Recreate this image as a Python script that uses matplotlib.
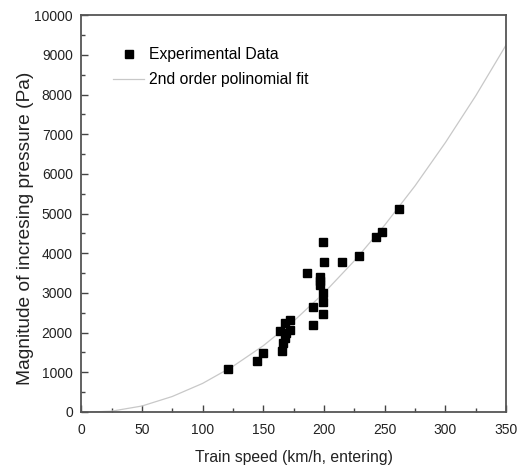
"""Pressure rise vs train speed, with 2nd order fit"""

import numpy as np
import matplotlib.pyplot as plt
from matplotlib.ticker import MultipleLocator

plt.rcParams['font.family'] = ['Liberation Sans', 'DejaVu Sans']

# measured points (speed km/h, pressure Pa)
speed = [121, 145, 150, 165, 166, 164, 168, 172, 172, 169, 168,
         191, 191, 186, 199, 200, 197, 197, 197, 199, 199, 199,
         215, 229, 243, 248, 262]
pressure = [1080, 1290, 1490, 1530, 1750, 2030, 2240, 2320, 2070, 2000, 1860,
            2200, 2640, 3510, 4290, 3770, 3410, 3290, 3200, 3010, 2760, 2470,
            3790, 3930, 4400, 4530, 5120]

# fitted curve
fit_speed = [8, 25, 50, 75, 100, 125, 150, 175, 200, 225, 250, 275, 300, 325, 350]
fit_pressure = [0, 20, 150, 390, 720, 1150, 1670, 2290, 3000, 3810, 4710,
                5700, 6790, 7970, 9250]

fig = plt.figure(figsize=(5.17, 4.73), dpi=100)
ax = fig.add_axes([0.157, 0.129, 0.822, 0.839])

ax.plot(fit_speed, fit_pressure, color='#c8c8c8', lw=0.9,
        label='2nd order polinomial fit', zorder=2)
ax.plot(speed, pressure, 's', color='black', ms=5.8, ls='none',
        label='Experimental Data', zorder=3)

ax.set_xlim(0, 350)
ax.set_ylim(0, 10000)
ax.xaxis.set_major_locator(MultipleLocator(50))
ax.xaxis.set_minor_locator(MultipleLocator(25))
ax.yaxis.set_major_locator(MultipleLocator(1000))
ax.yaxis.set_minor_locator(MultipleLocator(500))
ax.tick_params(which='both', direction='in', top=False, right=False,
               color='#444444', labelsize=10, labelcolor='#222222')
ax.tick_params(which='major', length=5, width=1)
ax.tick_params(which='minor', length=3, width=1)
ax.tick_params(axis='x', which='major', pad=8)
ax.tick_params(axis='y', which='major', pad=6)
for s in ax.spines.values():
    s.set_color('#555555')
    s.set_linewidth(1.3)

ax.set_xlabel('Train speed (km/h, entering)', fontsize=11.3,
              color='#222222', labelpad=9)
ax.set_ylabel('Magnitude of incresing pressure (Pa)', fontsize=13.8,
              color='#222222')
ax.yaxis.set_label_coords(-0.112, 0.463)

handles, labels = ax.get_legend_handles_labels()
ax.legend(handles[::-1], labels[::-1], loc='upper left', bbox_to_anchor=(0.075, 0.919),
          frameon=False, fontsize=11.3, handlelength=2.0, borderpad=0,
          borderaxespad=0, handletextpad=0.3, labelspacing=0.65)

fig.savefig('out.png', dpi=100)
